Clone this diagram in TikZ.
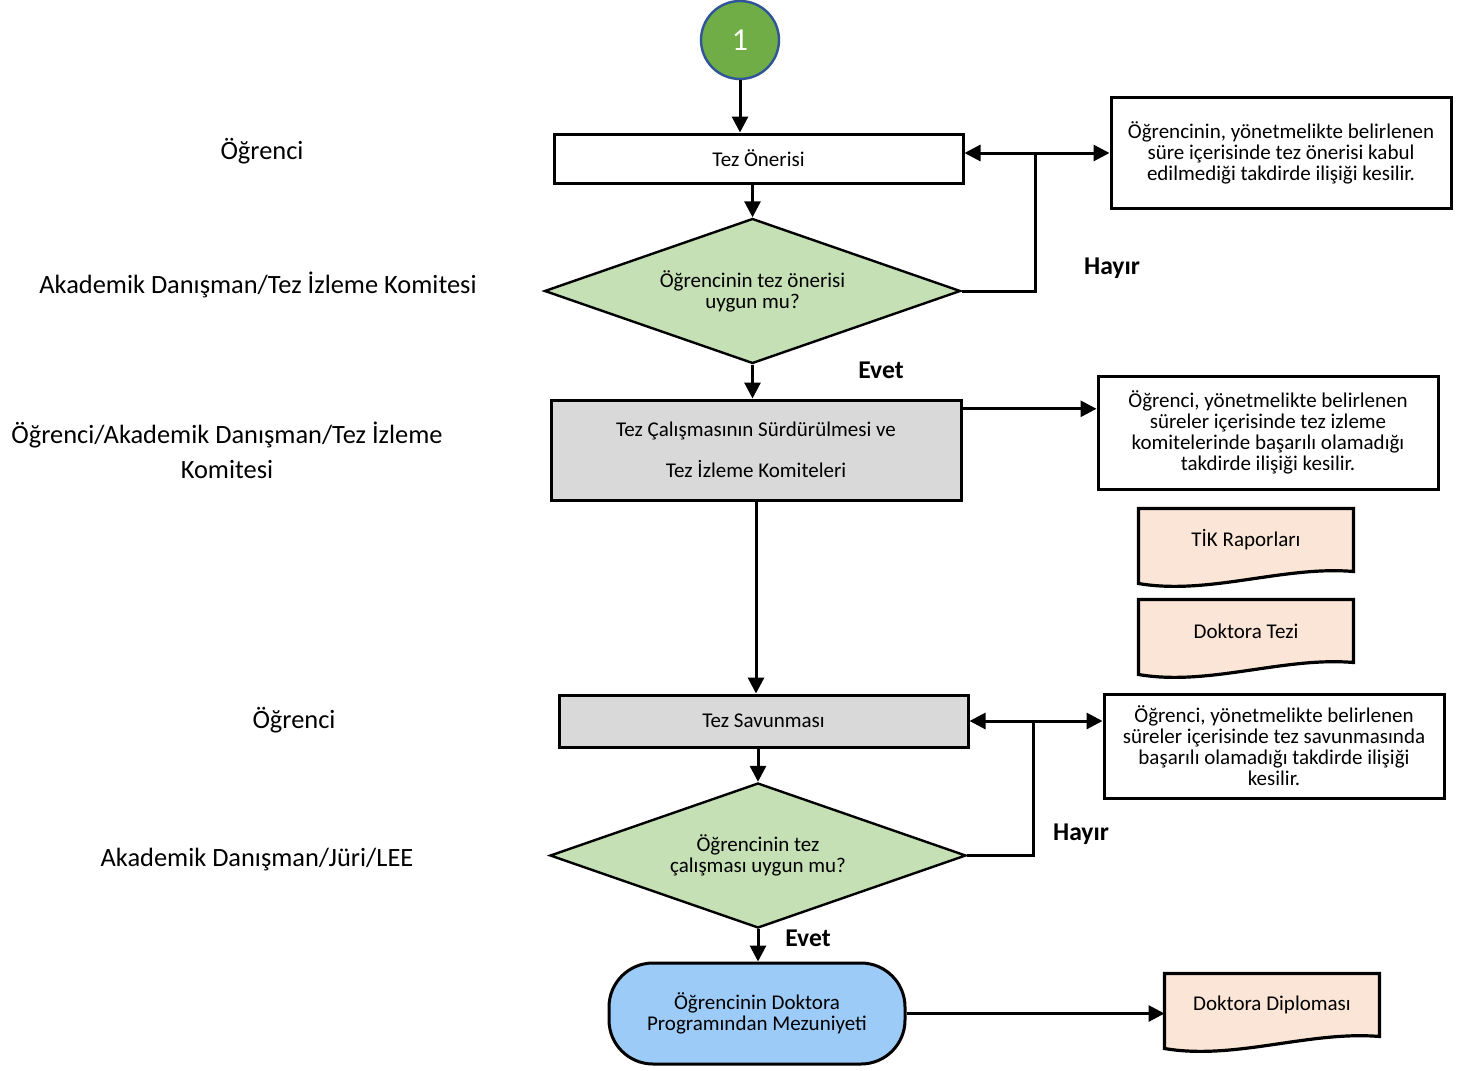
\documentclass[tikz,border=0pt]{standalone}
\usepackage{fontspec}
\setmainfont{Carlito}
\usetikzlibrary{arrows.meta,shapes.geometric,calc,backgrounds}
\definecolor{startgreen}{HTML}{70AD47}
\definecolor{startblue}{HTML}{2F5597}
\definecolor{decgreen}{HTML}{C5E0B4}
\definecolor{procgray}{HTML}{D9D9D9}
\definecolor{docpeach}{HTML}{FBE5D6}
\definecolor{endblue}{HTML}{9DCBF8}
\def\s{0.5pt}
\def\punkt#1#2{({(#1)*\s},{-(#2)*\s})}
\tikzset{
  box/.style={draw,line width=1.5pt,inner sep=0pt,align=center,font=\fontsize{10.5}{10.5}\selectfont},
  graybox/.style={box,fill=procgray},
  note/.style={box,minimum width=340*\s},
  decision/.style={draw,diamond,shape aspect=2.9,line width=1.2pt,fill=decgreen,inner sep=0pt,
    minimum width=416*\s,minimum height=145*\s,align=center,font=\fontsize{10.5}{10.5}\selectfont},
  startnode/.style={circle,draw=startblue,line width=1.2pt,fill=startgreen,text=white,
    minimum size=78*\s,inner sep=0pt,font=\fontsize{16}{16}\selectfont},
  endnode/.style={box,fill=endblue,rounded corners=22pt,minimum width=296*\s,minimum height=101*\s},
  doc/.style={inner sep=0pt,minimum width=212*\s,minimum height=60*\s,font=\fontsize{10.5}{10.5}\selectfont},
  docshape/.style={draw,fill=docpeach,line width=1.6pt},
  role/.style={align=center,font=\fontsize{13.2}{17.5}\selectfont},
  answer/.style={font=\bfseries\fontsize{12.8}{14}\selectfont}
}
\begin{document}
\begin{tikzpicture}[>={Triangle[length=8pt,width=8pt]},line width=1.5pt]
\useasboundingbox \punkt{0}{0} rectangle \punkt{1470}{1070};
\node[startnode] (start) at \punkt{740}{40} {1};
\node[box,minimum width=409*\s,minimum height=49*\s] (oneri) at \punkt{758.5}{158.5} {Tez Önerisi};
\node[decision] (d1) at \punkt{752.5}{291} {Öğrencinin tez önerisi\\uygun mu?};
\node[note,minimum height=110*\s] (r1) at \punkt{1281}{153} {Öğrencinin, yönetmelikte belirlenen\\süre içerisinde tez önerisi kabul\\edilmediği takdirde ilişiği kesilir.};
\node[graybox,minimum width=410*\s,minimum height=100*\s] (box2) at \punkt{756}{450} {Tez Çalışmasının Sürdürülmesi ve\\[10pt]Tez İzleme Komiteleri};
\node[note,minimum height=113*\s] (r2) at \punkt{1268}{432.5} {Öğrenci, yönetmelikte belirlenen\\süreler içerisinde tez izleme\\komitelerinde başarılı olamadığı\\takdirde ilişiği kesilir.};
\node[doc] (tik) at \punkt{1246}{540} {TİK Raporları};
\node[doc] (tezi) at \punkt{1246}{631} {Doktora Tezi};
\node[graybox,minimum width=409*\s,minimum height=52*\s] (sav) at \punkt{763.5}{721} {Tez Savunması};
\node[decision] (d2) at \punkt{758}{855.5} {Öğrencinin tez\\çalışması uygun mu?};
\node[note,minimum height=104*\s] (r3) at \punkt{1274}{746} {Öğrenci, yönetmelikte belirlenen\\süreler içerisinde tez savunmasında\\başarılı olamadığı takdirde ilişiği\\kesilir.};
\node[endnode] (term) at \punkt{757}{1013.5} {Öğrencinin Doktora\\Programından Mezuniyeti};
\node[doc] (diploma) at \punkt{1272}{1005} {Doktora Diploması};

\node[role] (rol1) at \punkt{262}{151} {Öğrenci};
\node[role] (rol2) at \punkt{258}{285} {Akademik Danışman/Tez İzleme Komitesi};
\node[role] (rol3) at \punkt{227}{450.5} {Öğrenci/Akademik Danışman/Tez İzleme\\Komitesi};
\node[role] (rol4) at \punkt{294}{720} {Öğrenci};
\node[role] (rol5) at \punkt{257}{860} {Akademik Danışman/Jüri/LEE};

\node[answer] (hayir1) at \punkt{1112}{268} {Hayır};
\node[answer] (evet1) at \punkt{881}{370} {Evet};
\node[answer] (hayir2) at \punkt{1081}{834} {Hayır};
\node[answer] (evet2) at \punkt{808}{938} {Evet};

\begin{scope}[on background layer]
\foreach \d in {tik,tezi,diploma}{
  \draw[docshape] (\d.north west) -- (\d.north east) -- (\d.south east)
    .. controls ($(\d.south east)+({-70*\s},{6*\s})$) and ($(\d.south west)+({70*\s},{-24*\s})$)
    .. ($(\d.south west)+(0,{-12*\s})$) -- cycle;
}
\end{scope}

\path \punkt{1035}{153} coordinate (k1);
\path (box2.north east) -- (box2.south east) coordinate[pos=0.1] (k2);
\path \punkt{1033}{721} coordinate (k3);
\draw[->] (start) -- (start |- oneri.north);
\draw[->] (d1.north |- oneri.south) -- (d1.north);
\draw (d1.east) -| (k1);
\draw[->] (k1) -- (k1 -| oneri.east);
\draw[->] (k1) -- (k1 -| r1.west);
\draw[->] (d1.south) -- (d1.south |- box2.north);
\draw[->] (k2) -- (k2 -| r2.west);
\draw[->] (box2.south) -- (box2.south |- sav.north);
\draw[->] (d2.north |- sav.south) -- (d2.north);
\draw (d2.east) -| (k3);
\draw[->] (k3) -- (k3 -| sav.east);
\draw[->] (k3) -- (k3 -| r3.west);
\draw[->] (d2.south) -- (d2.south |- term.north);
\draw[->] (term.east) -- (term.east -| diploma.west);
\end{tikzpicture}
\end{document}
